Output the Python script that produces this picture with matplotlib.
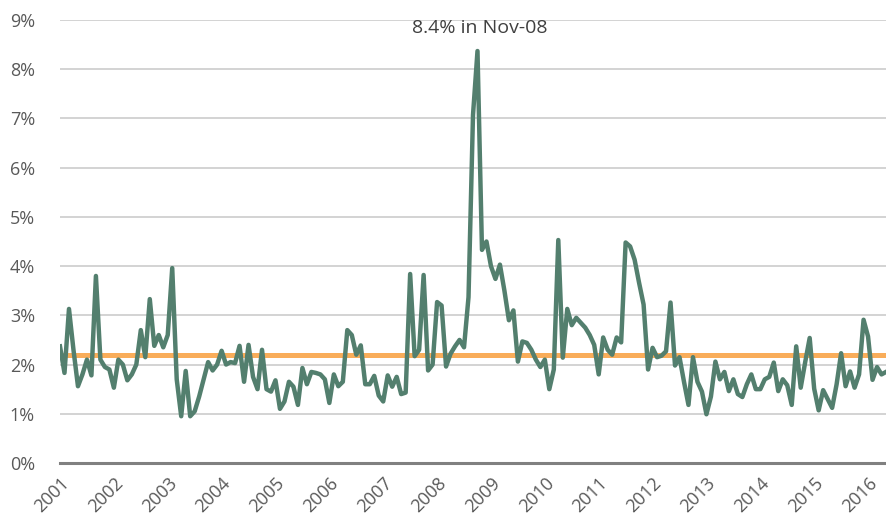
import numpy as np
import matplotlib
matplotlib.use("Agg")
import matplotlib.pyplot as plt
from matplotlib.ticker import FuncFormatter

# monthly values (%)
rate = [
    2.37, 1.83, 3.13, 2.3, 1.56, 1.8, 2.1, 1.78, 3.8, 2.1, 1.95, 1.9,
    1.53, 2.1, 2.0, 1.68, 1.8, 2.0, 2.7, 2.15, 3.33, 2.38, 2.6, 2.35,
    2.6, 3.96, 1.7, 0.95, 1.87, 0.95, 1.05, 1.35, 1.7, 2.05, 1.88, 2.0,
    2.28, 2.0, 2.05, 2.03, 2.38, 1.65, 2.4, 1.75, 1.5, 2.3, 1.5, 1.45,
    1.68, 1.1, 1.25, 1.65, 1.55, 1.18, 1.93, 1.6, 1.85, 1.83, 1.8, 1.7,
    1.22, 1.8, 1.56, 1.65, 2.7, 2.6, 2.2, 2.39, 1.6, 1.6, 1.77, 1.37,
    1.25, 1.78, 1.55, 1.75, 1.4, 1.43, 3.84, 2.17, 2.3, 3.82, 1.88, 2.0,
    3.27, 3.2, 1.96, 2.22, 2.37, 2.5, 2.35, 3.37, 7.07, 8.37, 4.33, 4.5,
    4.0, 3.74, 4.03, 3.5, 2.9, 3.1, 2.06, 2.47, 2.44, 2.3, 2.1, 1.95,
    2.1, 1.5, 1.9, 4.53, 2.14, 3.13, 2.8, 2.95, 2.85, 2.75, 2.6, 2.4,
    1.8, 2.55, 2.3, 2.2, 2.55, 2.45, 4.48, 4.4, 4.13, 3.66, 3.22, 1.9,
    2.34, 2.15, 2.18, 2.27, 3.26, 1.98, 2.15, 1.65, 1.18, 2.15, 1.65, 1.45,
    0.99, 1.35, 2.06, 1.7, 1.85, 1.46, 1.7, 1.4, 1.34, 1.6, 1.8, 1.5,
    1.5, 1.7, 1.75, 2.04, 1.46, 1.7, 1.58, 1.18, 2.37, 1.53, 2.05, 2.54,
    1.51, 1.07, 1.48, 1.3, 1.12, 1.6, 2.23, 1.56, 1.86, 1.53, 1.8, 2.91,
    2.57, 1.69, 1.95, 1.8, 1.85,
]
average = 2.19
years = [str(y) for y in range(2001, 2017)]
peak_label = "8.4% in Nov-08"

plt.rcParams['font.family'] = ['Open Sans', 'DejaVu Sans']

x = np.arange(len(rate))
fig = plt.figure(figsize=(8.86, 5.25), dpi=100)
ax = fig.add_axes([60 / 886, 1 - 463 / 525, 1 - 60 / 886, (463 - 20) / 525])

ax.plot(x, [average] * len(rate), color="#f9ad5a", lw=3.6, zorder=2)
ax.plot(x, rate, color="#537f6e", lw=3.2, zorder=3)

ax.set_xlim(0, len(rate) - 1)
ax.set_ylim(0, 9)
ax.set_yticks(range(0, 10))
ax.yaxis.set_major_formatter(FuncFormatter(lambda v, p: f"{v:.0f}%"))
ax.grid(axis="y", color="#c8c8c8", lw=1.1, zorder=0)
ax.set_axisbelow(True)

ax.set_xticks(np.arange(0, len(rate), 12))
ax.set_xticklabels(years, rotation=45, ha="right", rotation_mode="anchor")

for s in ["top", "right", "left"]:
    ax.spines[s].set_visible(False)
ax.spines["bottom"].set_color("#808080")
ax.spines["bottom"].set_linewidth(2.2)
ax.tick_params(axis="both", length=0, labelsize=13, colors="#595959")
ax.tick_params(axis="y", pad=18)
ax.tick_params(axis="x", pad=8)

ipk = int(np.argmax(rate))
ax.text(ipk + 0.5, 8.65, peak_label, ha="center", va="bottom", fontsize=14,
        color="#404040", clip_on=False)

fig.savefig("out.png", dpi=100)
